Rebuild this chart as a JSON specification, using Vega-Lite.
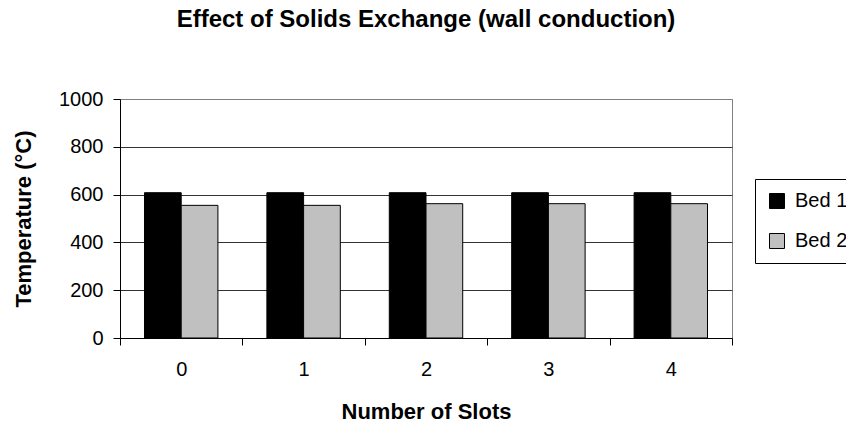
{
  "$schema": "https://vega.github.io/schema/vega-lite/v6.json",
  "width": 612,
  "height": 239,
  "autosize": "none",
  "padding": {"left": 120, "top": 99, "right": 114, "bottom": 92},
  "background": "white",
  "title": {
    "text": "Effect of Solids Exchange (wall conduction)",
    "font": "Liberation Sans",
    "fontSize": 24,
    "fontWeight": "bold",
    "color": "black",
    "anchor": "middle",
    "baseline": "alphabetic",
    "offset": 38
  },
  "config": {
    "view": {"stroke": "#808080", "strokeWidth": 1},
    "font": "Liberation Sans"
  },
  "data": {
    "values": [
      {"Slots": "0", "Bed": "Bed 1", "Temp": 608},
      {"Slots": "0", "Bed": "Bed 2", "Temp": 555},
      {"Slots": "1", "Bed": "Bed 1", "Temp": 608},
      {"Slots": "1", "Bed": "Bed 2", "Temp": 555},
      {"Slots": "2", "Bed": "Bed 1", "Temp": 608},
      {"Slots": "2", "Bed": "Bed 2", "Temp": 562},
      {"Slots": "3", "Bed": "Bed 1", "Temp": 608},
      {"Slots": "3", "Bed": "Bed 2", "Temp": 562},
      {"Slots": "4", "Bed": "Bed 1", "Temp": 608},
      {"Slots": "4", "Bed": "Bed 2", "Temp": 562}
    ]
  },
  "mark": {"type": "bar", "stroke": "black", "strokeWidth": 1},
  "encoding": {
    "x": {
      "field": "Slots",
      "type": "nominal",
      "scale": {"paddingInner": 0, "paddingOuter": 0},
      "axis": {
        "title": "Number of Slots",
        "titleFontSize": 22,
        "titleFontWeight": "bold",
        "titleColor": "black",
        "titlePadding": 22,
        "labelAngle": 0,
        "labelFontSize": 20,
        "labelColor": "black",
        "labelPadding": 14,
        "tickBand": "extent",
        "tickSize": 7,
        "tickColor": "black",
        "domainColor": "black",
        "grid": false
      }
    },
    "xOffset": {
      "field": "Bed",
      "type": "nominal",
      "scale": {"paddingInner": 0, "paddingOuter": 0.667}
    },
    "y": {
      "field": "Temp",
      "type": "quantitative",
      "scale": {"domain": [0, 1000]},
      "axis": {
        "title": "Temperature (°C)",
        "titleFontSize": 22,
        "titleFontWeight": "bold",
        "titleColor": "black",
        "titlePadding": 23,
        "values": [0, 200, 400, 600, 800, 1000],
        "format": "d",
        "labelFontSize": 20,
        "labelColor": "black",
        "labelPadding": 10,
        "tickSize": 7,
        "tickColor": "black",
        "domainColor": "black",
        "grid": true,
        "gridColor": {"condition": {"test": "datum.value === 1000", "value": "#808080"}, "value": "#333333"},
        "gridOpacity": 1
      }
    },
    "color": {
      "field": "Bed",
      "type": "nominal",
      "scale": {"domain": ["Bed 1", "Bed 2"], "range": ["#000000", "#c0c0c0"]},
      "legend": {
        "title": null,
        "orient": "none",
        "legendX": 635,
        "legendY": 80,
        "direction": "vertical",
        "strokeColor": "black",
        "fillColor": "white",
        "padding": 12,
        "rowPadding": 20,
        "symbolType": "square",
        "symbolSize": 225,
        "symbolStrokeColor": "black",
        "symbolStrokeWidth": 1,
        "symbolOpacity": 1,
        "labelFontSize": 20,
        "labelColor": "black",
        "labelOffset": 8,
        "cornerRadius": 0
      }
    }
  }
}
